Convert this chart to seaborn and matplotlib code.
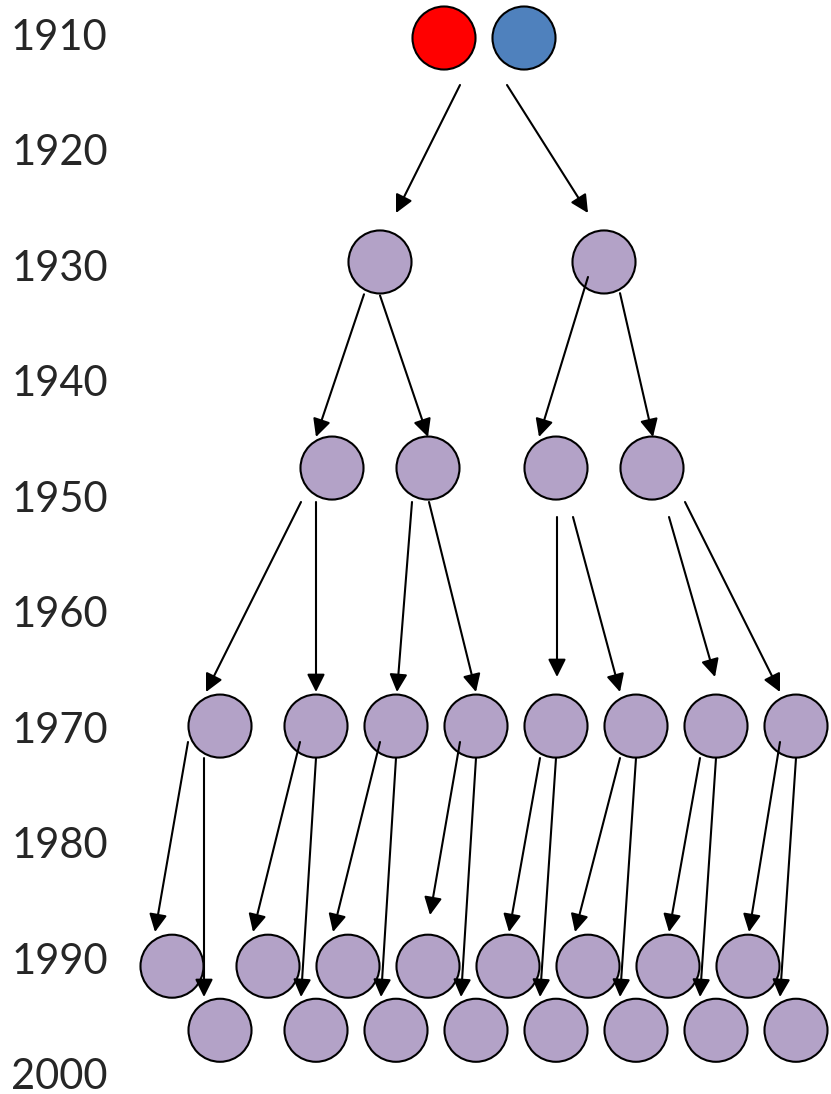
import pandas as pd
import matplotlib
matplotlib.use("Agg")
import matplotlib.pyplot as plt
import seaborn as sns

# year labels down the left side
years = [1910, 1920, 1930, 1940, 1950, 1960, 1970, 1980, 1990, 2000]

# generations: year row and horizontal slots of each circle
gen_year = [1910.0, 1929.4, 1947.25, 1969.6, 1990.4, 1995.95]
gen_x = [
    [444, 524],
    [380, 604],
    [332, 428, 556, 652],
    [220, 316, 396, 476, 556, 636, 716, 796],
    [172, 268, 348, 428, 508, 588, 668, 748],
    [220, 316, 396, 476, 556, 636, 716, 796],
]
gen_kind = [["mother", "father"]] + [["child"] * len(g) for g in gen_x[1:]]

# arrows (start x, start year, end x, end year)
arrow_x0 = [460, 507,
            364, 380, 588, 620,
            301, 316, 412, 429, 557, 573, 669, 685,
            188, 204, 300, 316, 380, 396, 460, 476,
            540, 556, 620, 636, 700, 716, 780, 796]
arrow_y0 = [1914.07, 1914.07,
            1932.2, 1932.3, 1930.7, 1932.1,
            1950.19, 1950.19, 1950.19, 1950.19, 1951.49, 1951.49, 1951.49, 1950.19,
            1970.98, 1972.37, 1970.98, 1972.37, 1970.98, 1972.37, 1970.98, 1972.37,
            1972.37, 1972.37, 1972.37, 1972.37, 1972.37, 1972.37, 1970.98, 1972.37]
arrow_x1 = [396, 588,
            316, 428, 539, 653,
            206, 316, 397, 476, 557, 620, 715, 780,
            155, 204, 253, 301, 333, 381, 430, 461,
            509, 540, 575, 620, 669, 700, 749, 780]
arrow_y1 = [1925.16, 1925.16,
            1944.56, 1944.56, 1944.56, 1944.56,
            1966.65, 1966.65, 1966.65, 1966.65, 1965.35, 1966.65, 1965.35, 1966.65,
            1987.44, 1993.07, 1987.44, 1993.07, 1987.44, 1993.07, 1985.97, 1993.07,
            1987.44, 1993.07, 1987.44, 1993.07, 1987.44, 1993.07, 1987.44, 1993.07]

rows = []
for yr, xs, kinds in zip(gen_year, gen_x, gen_kind):
    for x, k in zip(xs, kinds):
        rows.append({"x": x, "year": yr, "kind": k})
df_nodes = pd.DataFrame(rows)

sns.set_style("white")
plt.rcParams["font.family"] = ["Lato", "DejaVu Sans"]

fig = plt.figure(figsize=(8.31, 10.94), dpi=100)
ax = fig.add_axes([116 / 831, 0, 1 - 116 / 831, 1])

sns.scatterplot(data=df_nodes, x="x", y="year", hue="kind",
                palette={"mother": "#FF0000", "father": "#4F81BD", "child": "#B3A2C7"},
                s=2060, edgecolor="black", linewidth=1.5, legend=False,
                zorder=1, ax=ax)

for x0, y0, x1, y1 in zip(arrow_x0, arrow_y0, arrow_x1, arrow_y1):
    ax.annotate("", xy=(x1, y1), xytext=(x0, y0),
                arrowprops=dict(arrowstyle="-|>,head_length=0.6,head_width=0.3",
                                mutation_scale=18, color="black", lw=1.5,
                                shrinkA=0, shrinkB=0),
                zorder=3)

ax.set_xlim(116, 831)
ax.set_ylim(2001.47, 1906.708)
ax.set_yticks(years)
ax.set_yticklabels([str(y) for y in years], fontsize=30)
for lbl in ax.get_yticklabels():
    lbl.set_va("center")
ax.set_xticks([])
ax.tick_params(axis="y", length=0, pad=6)
ax.set_xlabel("")
ax.set_ylabel("")
sns.despine(ax=ax, left=True, bottom=True)

fig.savefig("out.png", dpi=100)
